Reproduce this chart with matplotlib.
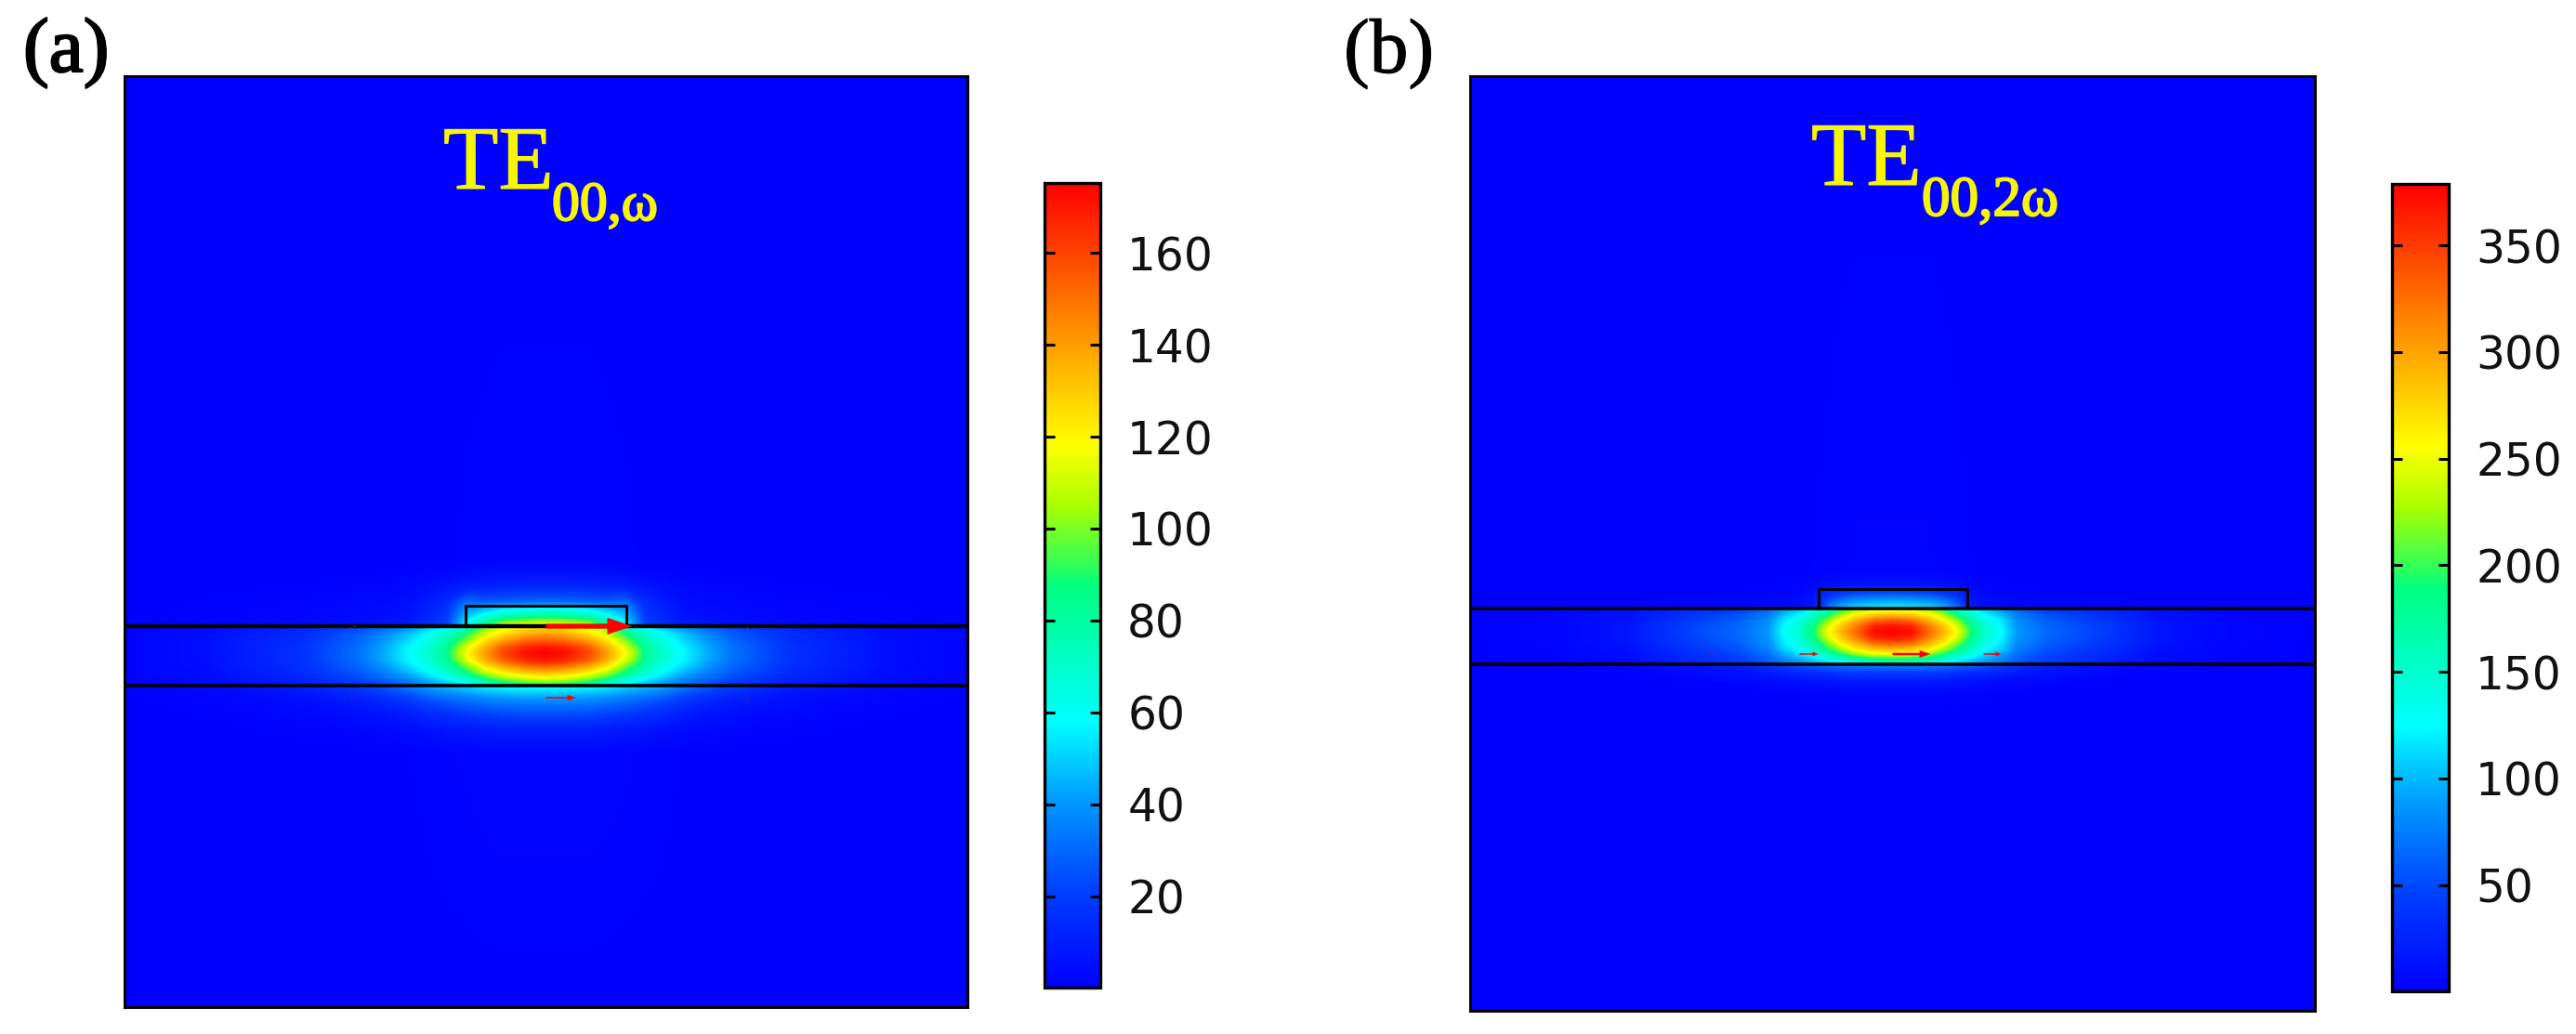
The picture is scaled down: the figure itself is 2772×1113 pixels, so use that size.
import numpy as np
import matplotlib
matplotlib.use("Agg")
import matplotlib.pyplot as plt
import matplotlib.patheffects as pe
from matplotlib.cm import ScalarMappable
from matplotlib.colors import LinearSegmentedColormap, Normalize

W, H = 2772, 1113

# ---- colour scale stops ----
cmap_stops = [(0.0, (0, 0, 255)), (0.114, (0, 60, 255)), (0.228, (0, 150, 255)),
              (0.33, (0, 255, 255)), (0.50, (0, 255, 128)), (0.52, (40, 255, 95)),
              (0.60, (170, 255, 0)), (0.675, (255, 255, 0)), (1.0, (255, 0, 0))]

# ---- panel (a): field (x = distance from core centre, y = picture row) ----
a_x = [0, 20, 45, 65, 85, 106, 125, 146, 170, 200, 265, 365, 454]
a_up_y = [82, 600, 615, 632, 648, 653, 660, 666, 674]
a_up = [
    [.3, .3, .3, .3, .3, .3, .3, .3, .3, .3, .3, .3, .3],
    [1, 1, 1, .9, .8, .6, .5, .4, .3, .3, .3, .3, .3],
    [4, 4, 4, 3.5, 3, 2, 1.5, 1, .8, .5, .3, .3, .3],
    [13, 13, 12, 11, 10, 7, 5, 3, 2, 1.5, .8, .5, .3],
    [30, 30, 28, 27, 30, 14, 9, 5, 3.5, 2.5, 1.5, .8, .3],
    [50, 49, 47, 42, 38, 16, 10, 5.5, 4, 3, 1.5, .9, .3],
    [72, 71, 65, 55, 45, 18, 12, 6, 4.5, 3.5, 2, 1, .3],
    [92, 90, 85, 70, 52, 19, 13, 7, 5.5, 4, 2.5, 1.2, .3],
    [125, 122, 115, 90, 62, 21, 15, 9, 7, 5, 3, 1.5, .3],
]
a_mid_y = [674, 682, 690, 697, 703, 710, 716, 723, 729, 733, 738]
a_mid = [
    [125, 122, 112, 92, 66, 55, 46, 38, 30, 22, 12, 4, 1],
    [138, 135, 124, 110, 88, 70, 58, 47, 37, 27, 14, 4, 1],
    [155, 152, 140, 125, 100, 78, 64, 53, 42, 30, 15, 5, 1],
    [170, 167, 155, 136, 113, 83, 68, 57, 45, 32, 16, 5, 1],
    [175, 172, 160, 140, 118, 85, 70, 58, 46, 32, 16, 5, 1],
    [170, 167, 155, 136, 113, 83, 68, 57, 45, 32, 16, 5, 1],
    [155, 152, 140, 125, 100, 78, 64, 53, 42, 30, 15, 5, 1],
    [135, 132, 122, 108, 88, 70, 58, 47, 37, 27, 14, 4, 1],
    [118, 115, 105, 92, 74, 60, 50, 40, 32, 23, 12, 4, 1],
    [102, 100, 90, 78, 63, 52, 44, 35, 28, 20, 10, 3, 1],
    [85, 82, 74, 62, 50, 43, 36, 27, 22, 16, 9, 3, 1],
]
a_low_y = [738, 745, 755, 768, 785, 810, 1084]
a_low = [
    [62, 61, 60, 58, 52, 48, 44, 36, 28, 20, 10, 3, 1],
    [50, 50, 48, 46, 42, 38, 34, 27, 21, 15, 7, 2, .5],
    [36, 36, 35, 33, 30, 27, 23, 18, 13, 9, 4, 1.5, .3],
    [24, 24, 23, 21, 19, 16, 14, 10, 7, 5, 2.5, .8, .3],
    [10, 10, 10, 9, 8, 7, 5.5, 4, 3, 2, 1, .4, .3],
    [2, 2, 2, 1.8, 1.5, 1.2, 1, .7, .5, .4, .3, .3, .3],
    [.3, .3, .3, .3, .3, .3, .3, .3, .3, .3, .3, .3, .3],
]
a_range = (0.1, 175.2)
a_ticks = [20, 40, 60, 80, 100, 120, 140, 160]
a_box = (-86.5, 86.5, 652, 674)
a_lines = [(674, 3.2), (738, 2.6)]
# arrows: x offset, row, length, shaft, head width, head length
a_arrows = [(0, 674, 93, 5, 18, 27), (0, 751, 33, 1.5, 6, 10)]
a_specks = [(-212, 675), (-207, 674), (-210, 751), (216, 675), (216, 751)]

# ---- panel (b) ----
b_x = [0, 20, 40, 55, 68, 85, 100, 117, 133, 165, 233, 285, 360, 455]
b_up_y = [82, 615, 630, 638, 646, 655]
b_up = [
    [.6, .6, .6, .6, .6, .6, .6, .6, .6, .6, .6, .6, .6, .6],
    [3, 3, 3, 2.5, 2, 1.5, 1, .8, .6, .6, .6, .6, .6, .6],
    [14, 14, 13, 11, 9, 5, 3, 2, 1.5, 1, .8, .6, .6, .6],
    [48, 47, 42, 35, 28, 10, 5, 3, 2.5, 2, 1, .8, .6, .6],
    [88, 86, 80, 68, 50, 14, 8, 5, 4, 3, 1.5, 1, .6, .6],
    [125, 122, 115, 100, 75, 18, 12, 8, 6, 4, 2, 1, .6, .6],
]
b_mid_y = [655, 662, 668, 674, 680, 686, 692, 698, 703, 709, 715]
b_mid = [
    [230, 225, 205, 180, 150, 120, 100, 82, 60, 40, 24, 9, 3, 1],
    [285, 280, 258, 225, 190, 152, 122, 102, 74, 52, 30, 12, 3, 1],
    [335, 325, 290, 258, 220, 170, 138, 116, 82, 60, 36, 14, 4, 1],
    [368, 360, 315, 280, 245, 183, 146, 122, 86, 64, 39, 15, 4, 1],
    [378, 372, 325, 290, 255, 189, 150, 125, 88, 65, 40, 15, 4, 1],
    [368, 360, 315, 280, 245, 183, 146, 122, 86, 64, 39, 15, 4, 1],
    [335, 325, 290, 258, 220, 170, 138, 116, 82, 60, 36, 14, 4, 1],
    [292, 285, 262, 228, 195, 155, 128, 108, 78, 55, 32, 12, 3, 1],
    [258, 252, 225, 195, 170, 140, 115, 95, 70, 50, 28, 10, 3, 1],
    [190, 186, 172, 150, 130, 112, 95, 80, 60, 42, 23, 8, 3, 1],
    [130, 128, 122, 115, 105, 92, 80, 68, 52, 38, 20, 7, 2, 1],
]
b_low_y = [715, 723, 732, 745, 770, 1088]
b_low = [
    [80, 80, 78, 75, 70, 62, 55, 45, 36, 25, 10, 4, 1, .6],
    [45, 45, 43, 42, 38, 34, 30, 25, 20, 13, 5, 2, .8, .6],
    [20, 20, 19, 18, 16, 14, 12, 10, 8, 5, 2, 1, .6, .6],
    [4, 4, 4, 3.5, 3, 2.5, 2, 1.5, 1, .8, .6, .6, .6, .6],
    [.6, .6, .6, .6, .6, .6, .6, .6, .6, .6, .6, .6, .6, .6],
    [.6, .6, .6, .6, .6, .6, .6, .6, .6, .6, .6, .6, .6, .6],
]
b_range = (0.2, 378.8)
b_ticks = [50, 100, 150, 200, 250, 300, 350]
b_box = (-80, 80, 634, 655)
b_lines = [(655, 2.6), (715, 2.6)]
b_arrows = [(0, 704, 41, 2.5, 8, 12), (-100, 704, 20, 1.5, 5, 6), (98, 704, 19, 1.5, 5, 6)]
b_specks = [(-196, 704)]

cmap = LinearSegmentedColormap.from_list(
    "field", [(s, tuple(c / 255 for c in col)) for s, col in cmap_stops], N=512)

fig = plt.figure(figsize=(W / 100, H / 100), dpi=100, facecolor="white")


def px_axes(l, t, r, b):
    return fig.add_axes([l / W, 1 - b / H, (r - l) / W, (b - t) / H])


def mirrored(table):
    t = np.array(table, float)
    return np.hstack([t[:, :0:-1], t])


def panel(frame, bar, x, regions, rng, ticks, box, lines, arrows, specks):
    ax = px_axes(*frame)
    half = (frame[2] - frame[0]) / 2
    xs = np.array(x, float)
    xx = np.hstack([-xs[:0:-1], xs])
    norm = Normalize(*rng)
    levels = np.linspace(rng[0], rng[1], 300)
    ax.set_facecolor(cmap(0.0))
    for ys, table in regions:
        ax.contourf(xx, ys, mirrored(table), levels=levels, cmap=cmap, norm=norm,
                    extend="both", antialiased=False)
    ax.set_xlim(-half, half)
    ax.set_ylim(frame[3], frame[1])
    ax.set_xticks([])
    ax.set_yticks([])
    for s in ax.spines.values():
        s.set_linewidth(2.2)
        s.set_color("black")
    for y, lw in lines:
        ax.plot([-half, half], [y, y], color="black", lw=lw, solid_capstyle="butt", zorder=5)
    l, r, t, b = box
    ax.plot([l, l, r, r], [b, t, t, b], color="black", lw=2.2, zorder=5, solid_joinstyle="round")
    for ox, oy, length, shaft, hw, hl in arrows:
        ax.arrow(ox, oy, length, 0, width=shaft, head_width=hw, head_length=hl,
                 length_includes_head=True, color="#ff0000", lw=0, zorder=6)
    ax.plot([p[0] for p in specks], [p[1] for p in specks], ls="none", marker="s", ms=1.3,
            color="#c00020", mew=0, zorder=6)

    cax = px_axes(*bar)
    cb = fig.colorbar(ScalarMappable(norm=norm, cmap=cmap), cax=cax)
    cb.set_ticks(ticks)
    cb.minorticks_off()
    cb.outline.set_linewidth(2.4)
    cb.outline.set_edgecolor("black")
    cax.tick_params(axis="y", left=True, right=True, direction="in", length=8, width=2.2,
                    color="black", labelsize=35, pad=21, labelcolor="#111111")
    for lab in cax.get_yticklabels():
        lab.set_family("DejaVu Sans")


panel((134, 82, 1041, 1084), (1124, 197, 1184, 1063), a_x,
      [(a_up_y, a_up), (a_mid_y, a_mid), (a_low_y, a_low)],
      a_range, a_ticks, a_box, a_lines, a_arrows, a_specks)
panel((1582, 82, 2491, 1088), (2574, 198, 2635, 1067), b_x,
      [(b_up_y, b_up), (b_mid_y, b_mid), (b_low_y, b_low)],
      b_range, b_ticks, b_box, b_lines, b_arrows, b_specks)


def label(x, y, s, size, color, stroke):
    t = fig.text(x / W, 1 - y / H, s, fontsize=size, color=color,
                 family="Liberation Serif", ha="left", va="baseline")
    t.set_path_effects([pe.withStroke(linewidth=stroke, foreground=color)])


YEL = "#f6f600"
label(477, 203, "TE", 70, YEL, 0.8)
label(594, 237, "00,ω", 43, YEL, 1.4)
label(1949, 199, "TE", 70, YEL, 0.8)
label(2068, 232, "00,2ω", 44, YEL, 1.4)
label(25, 77, "(a)", 60, "black", 1.6)
label(1446, 78, "(b)", 60, "black", 0.8)

fig.savefig("out.png", dpi=100)
